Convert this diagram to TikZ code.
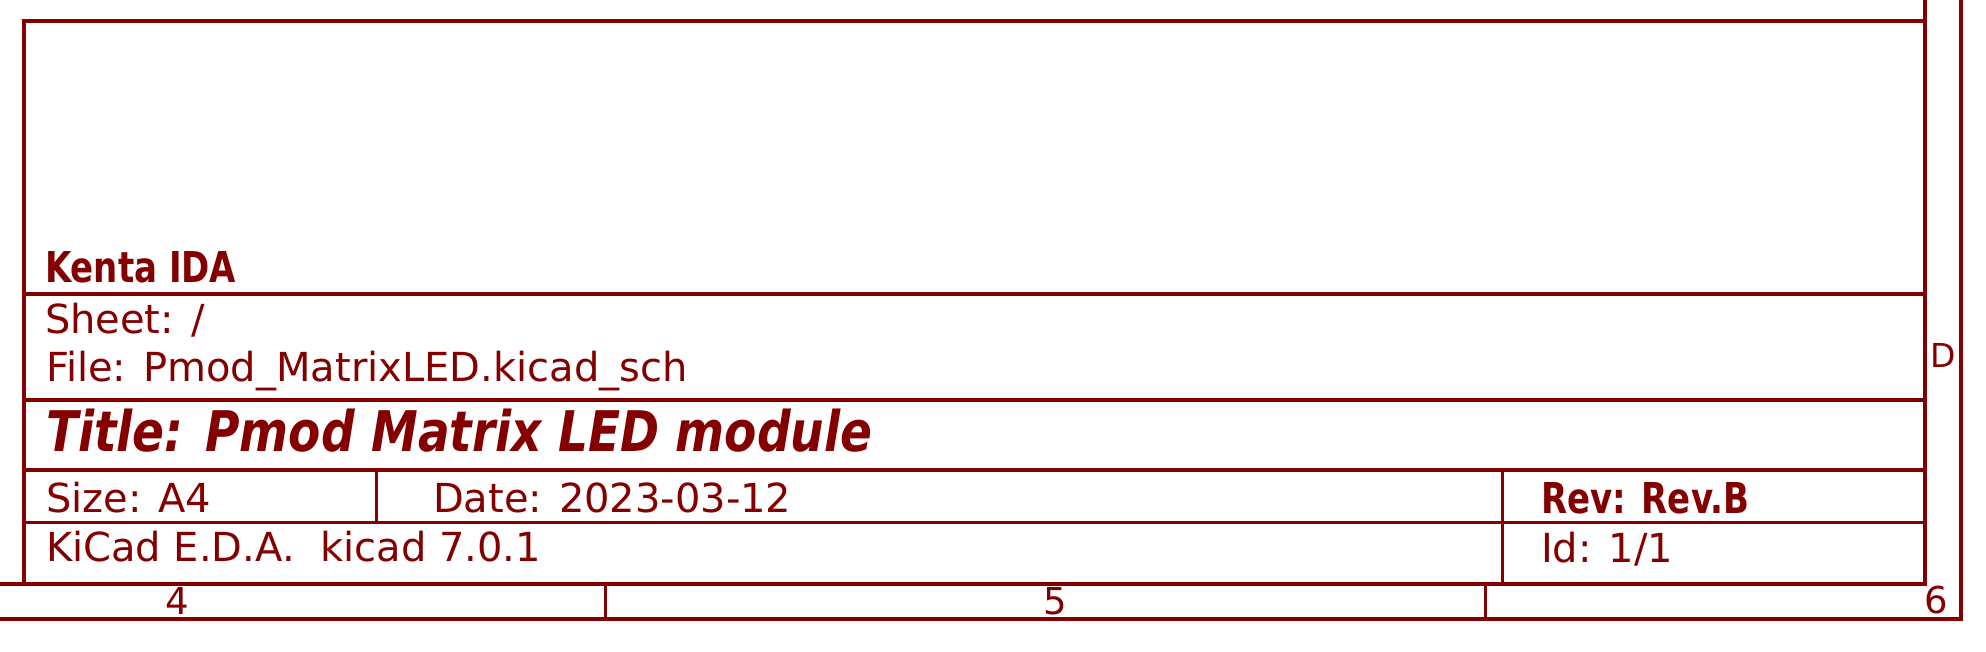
\documentclass[tikz,border=0pt]{standalone}
\usepackage{fontspec}
\setmainfont{DejaVu Sans}[BoldFeatures={FakeStretch=0.8},BoldItalicFeatures={FakeStretch=0.84}]
\definecolor{kicad}{RGB}{132,0,0}
\begin{document}
\begin{tikzpicture}[x=1pt,y=-1pt,
  frameline/.style={draw=kicad,line width=3.1pt},
  tbline/.style={draw=kicad,line width=3.4pt},
  thinline/.style={draw=kicad,line width=2.7pt},
  txt/.style={text=kicad,inner sep=0pt,outer sep=0pt,anchor=base west,font=\fontsize{40}{40}\selectfont},
  txtb/.style={txt,font=\fontsize{42.5}{42.5}\selectfont\bfseries},
  txttitle/.style={txt,font=\fontsize{56}{56}\selectfont\bfseries\itshape},
  marker/.style={text=kicad,inner sep=0pt,outer sep=0pt,anchor=base,font=\fontsize{37}{37}\selectfont}]
\useasboundingbox (0,0) rectangle (1986,652);
% outer frame
\draw[frameline] (1961,0) -- (1961,619) -- (0,619);
\draw[frameline] (1925,0) -- (1925,584) -- (0,584);
\draw[thinline] (605.5,584) -- (605.5,619);
\draw[thinline] (1485.5,584) -- (1485.5,619);
% title block
\draw[tbline] (24,584) -- (24,21) -- (1925,21);
\draw[tbline] (24,294) -- (1925,294);
\draw[tbline] (24,400) -- (1925,400);
\draw[tbline] (24,470) -- (1925,470);
\draw[tbline] (24,522.5) -- (1925,522.5);
\draw[tbline] (376.5,470) -- (376.5,522.5);
\draw[tbline] (1502.5,470) -- (1502.5,584);
% texts
\node[txtb] (company) at (45,283) {Kenta IDA};
\node[txt] (sheet) at (45,334) {Sheet: /};
\node[txt] (file) at (46,381) {File: Pmod\_MatrixLED.kicad\_sch};
\node[txttitle] (title) at (46,451) {Title: Pmod Matrix LED module};
\node[txt] (size) at (46,512) {Size: A4};
\node[txt] (date) at (433,512) {Date: 2023-03-12};
\node[txtb] (rev) at (1541,513) {Rev: Rev.B};
\node[txt] (kicad) at (46,561) {KiCad E.D.A.\ \ kicad 7.0.1};
\node[txt] (id) at (1541,562) {Id: 1/1};
\node[marker,font=\fontsize{33}{33}\selectfont] (rowD) at (1943,367) {D};
\node[marker] (col4) at (177,614) {4};
\node[marker] (col5) at (1055,614) {5};
\node[marker] (col6) at (1936,613) {6};
\end{tikzpicture}
\end{document}
